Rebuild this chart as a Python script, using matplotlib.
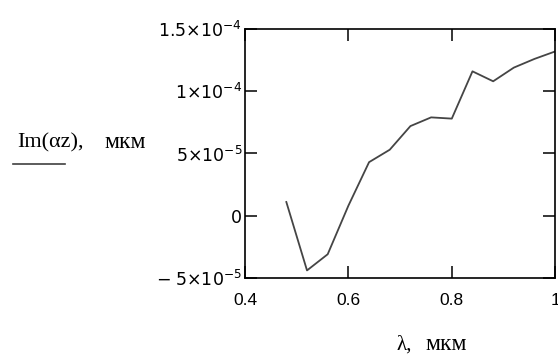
import matplotlib
matplotlib.use("Agg")
from matplotlib import pyplot as plt
from matplotlib.lines import Line2D

plt.rcParams['mathtext.fontset'] = 'custom'
plt.rcParams['mathtext.rm'] = 'Liberation Sans'
plt.rcParams['mathtext.it'] = 'Liberation Sans'

# Длина волны, мкм
lam = [0.48, 0.52, 0.56, 0.60, 0.64, 0.68, 0.72, 0.76, 0.80, 0.84, 0.88, 0.92, 0.96, 1.00]
# Im(alpha*z), мкм
im_az = [1.1e-5, -4.4e-5, -3.1e-5, 0.8e-5, 4.3e-5, 5.3e-5, 7.2e-5, 7.9e-5, 7.8e-5,
         1.16e-4, 1.08e-4, 1.19e-4, 1.26e-4, 1.32e-4]

x_ticks = [0.4, 0.6, 0.8, 1.0]
x_labels = ['0.4', '0.6', '0.8', '1']
y_ticks = [1.5e-4, 1e-4, 5e-5, 0, -5e-5]
y_labels = [r'$\mathregular{1.5{\times}10^{-4}}$', r'$\mathregular{1{\times}10^{-4}}$',
            r'$\mathregular{5{\times}10^{-5}}$', r'$\mathregular{0}$',
            r'$\mathregular{-\ 5{\times}10^{-5}}$']

fig = plt.figure(figsize=(5.58, 3.54), dpi=100)
ax = fig.add_axes([0.439, 0.215, 0.556, 0.703])

ax.plot(lam, im_az, color='#454545', lw=1.3)

ax.set_xlim(0.4, 1.0)
ax.set_ylim(-5e-5, 1.5e-4)
ax.set_xticks(x_ticks)
ax.set_xticklabels(x_labels, fontfamily='Liberation Sans', fontsize=12.5)
ax.set_yticks(y_ticks)
ax.set_yticklabels(y_labels, fontsize=12.5)

ax.tick_params(direction='in', length=8.5, width=1.1, top=True, right=True, color='black')
ax.tick_params(axis='x', pad=11)
ax.tick_params(axis='y', pad=2)
for s in ax.spines.values():
    s.set_linewidth(1.2)

# подписи осей в стиле Mathcad: имя величины и единицы отдельно
fig.text(0.030, 0.582, 'Im(\u03b1z),', fontfamily='Liberation Serif', fontsize=16,
         ha='left', va='baseline')
fig.text(0.188, 0.582, 'мкм', fontfamily='Liberation Serif', fontsize=17,
         ha='left', va='baseline')
fig.add_artist(Line2D([0.024, 0.116], [0.537, 0.537], color='#404040', lw=1.2))

fig.text(0.711, 0.012, '\u03bb,', fontfamily='Liberation Serif', fontsize=15,
         ha='left', va='baseline')
fig.text(0.762, 0.012, 'мкм', fontfamily='Liberation Serif', fontsize=17,
         ha='left', va='baseline')

fig.savefig('out.png', dpi=100)
